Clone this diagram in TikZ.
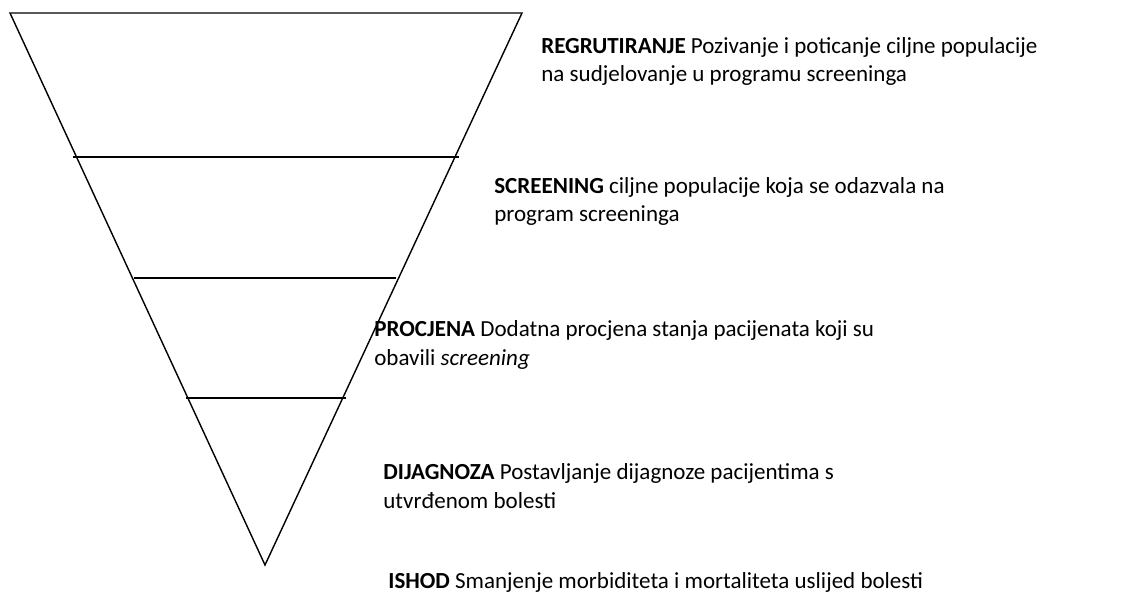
\documentclass[tikz,border=0pt]{standalone}
\usepackage{fontspec}
\setmainfont{Carlito}
\usepackage{tikz}

\tikzset{
  stage/.style={anchor=base west, align=left, inner sep=0pt,
    font=\fontsize{13.1}{16.2}\selectfont},
  funnel/.style={line width=0.8pt, line join=miter}
}

\begin{document}
\begin{tikzpicture}[x=0.02cm,y=-0.02cm]
\useasboundingbox (0,0) rectangle (1121,604);
%%%FUNNEL
\coordinate (tl) at (10,13);
\coordinate (tr) at (522,13);
\coordinate (apex) at (265,565);
\draw[funnel] (tl) -- (tr) -- (apex) -- cycle;
%%%LEVELS
\coordinate (l1a) at (73,157);  \coordinate (l1b) at (459,157);
\coordinate (l2a) at (134,278); \coordinate (l2b) at (396,278);
\coordinate (l3a) at (186,398); \coordinate (l3b) at (346,398);
\draw[funnel] (l1a) -- (l1b);
\draw[funnel] (l2a) -- (l2b);
\draw[funnel] (l3a) -- (l3b);
%%%STAGES (anchored on the baseline of the last line)
\node[stage] (regrut) at (541,82) {\textbf{REGRUTIRANJE} Pozivanje i poticanje ciljne populacije\\na sudjelovanje u programu screeninga};
\node[stage] (screen) at (494,222) {\textbf{SCREENING} ciljne populacije koja se odazvala na\\program screeninga};
\node[stage] (procj) at (374,365) {\textbf{PROCJENA} Dodatna procjena stanja pacijenata koji su\\obavili \textit{screening}};
\node[stage] (dijag) at (383,508) {\textbf{DIJAGNOZA} Postavljanje dijagnoze pacijentima s\\utvrđenom bolesti};
\node[stage] (ishod) at (388,588) {\textbf{ISHOD} Smanjenje morbiditeta i mortaliteta uslijed bolesti};
\end{tikzpicture}
\end{document}
